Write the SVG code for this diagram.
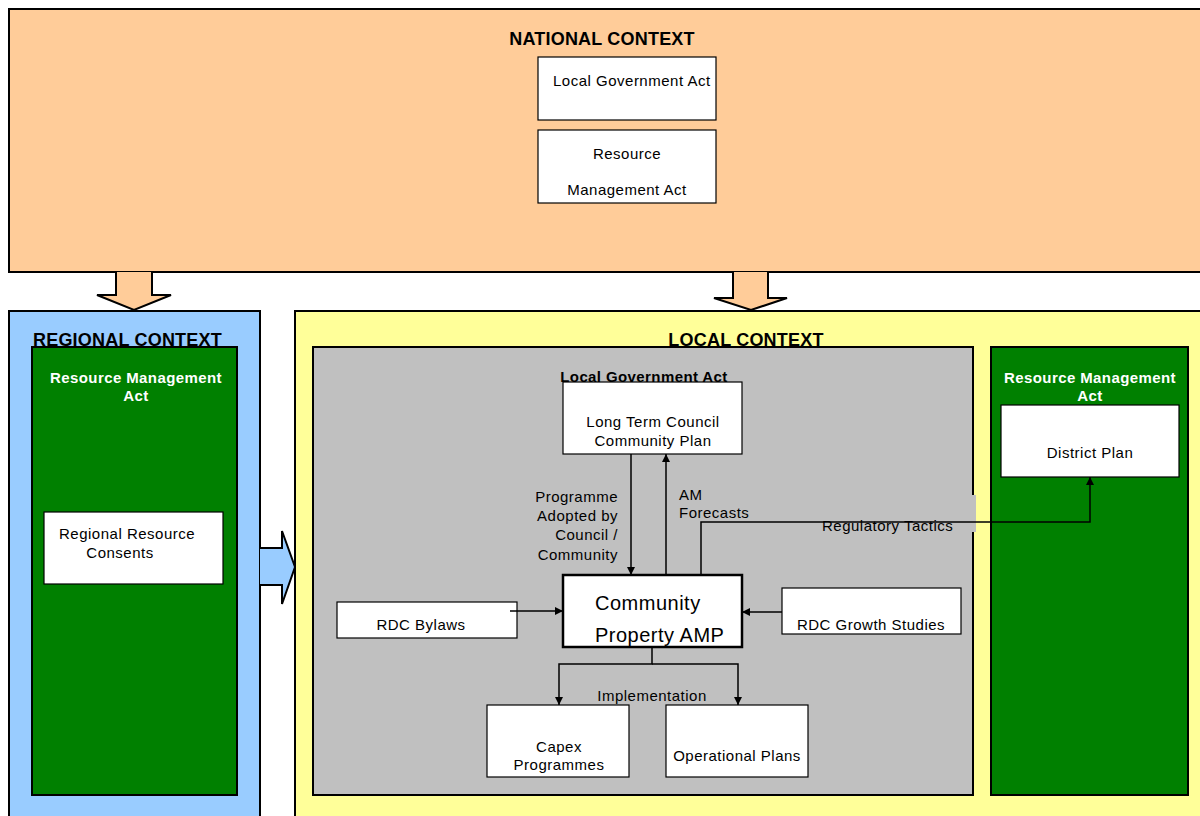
<svg xmlns="http://www.w3.org/2000/svg" width="1200" height="816" viewBox="0 0 1200 816">
<style>
text{font-family:"Liberation Sans",Arial,sans-serif;fill:#000}
.hdr{font-size:18px;font-weight:bold;letter-spacing:0.2px}
.wh{font-size:15px;font-weight:bold;fill:#fff;letter-spacing:0.4px}
.t{font-size:15px;letter-spacing:0.5px}
.box{fill:#fff;stroke:#000;stroke-width:1.2}
.cn{fill:none;stroke:#000;stroke-width:1.5}
</style>
<defs>
<marker id="ah" viewBox="0 0 10 10" refX="10" refY="5" markerWidth="8" markerHeight="8" markerUnits="userSpaceOnUse" orient="auto"><path d="M0,0 L10,5 L0,10 z" fill="#000"/></marker>
</defs>
<rect width="1200" height="816" fill="#fff"/>
<g id="national">
<rect x="9" y="9" width="1200" height="263" fill="#FFCC99" stroke="#000" stroke-width="2"/>
<text class="hdr" x="602" y="45" text-anchor="middle">NATIONAL CONTEXT</text>
</g>
<g id="nat-lga">
<rect class="box" x="538" y="57" width="178" height="63"/>
<text class="t" x="553" y="86">Local Government Act</text>
</g>
<g id="nat-rma">
<rect class="box" x="538" y="130" width="178" height="73"/>
<text class="t" x="627" y="159" text-anchor="middle">Resource</text>
<text class="t" x="627" y="195" text-anchor="middle">Management Act</text>
</g>
<g id="arrow-nat-regional">
<path d="M116,272 L116,295 L97,295 L134,310 L171,295 L152,295 L152,272" fill="#FFCC99" stroke="#000" stroke-width="2"/>
</g>
<g id="arrow-nat-local">
<path d="M733,272 L733,298 L714,298 L751,310 L787,298 L768,298 L768,272" fill="#FFCC99" stroke="#000" stroke-width="2"/>
</g>
<g id="regional">
<rect x="9" y="311" width="251" height="520" fill="#99CCFF" stroke="#000" stroke-width="2"/>
<rect x="32" y="347" width="205" height="448" fill="#008000" stroke="#000" stroke-width="2"/>
<text class="hdr" x="33" y="346">REGIONAL CONTEXT</text>
<text class="wh" x="136" y="383" text-anchor="middle">Resource Management</text>
<text class="wh" x="136" y="401" text-anchor="middle">Act</text>
</g>
<g id="regional-consents">
<rect class="box" x="44" y="512" width="179" height="72"/>
<text class="t" x="59" y="539">Regional Resource</text>
<text class="t" x="120" y="558" text-anchor="middle">Consents</text>
</g>
<g id="arrow-regional-local">
<path d="M260,548 L282,548 L282,531 L295,567 L282,604 L282,585 L260,585" fill="#99CCFF" stroke="#000" stroke-width="2"/>
</g>
<g id="local">
<rect x="295" y="311" width="920" height="520" fill="#FFFF99" stroke="#000" stroke-width="2"/>
<rect x="313" y="347" width="660" height="448" fill="#C0C0C0" stroke="#000" stroke-width="2"/>
<rect x="991" y="347" width="197" height="448" fill="#008000" stroke="#000" stroke-width="2"/>
<text class="hdr" x="746" y="346" text-anchor="middle">LOCAL CONTEXT</text>
<text x="644" y="382" text-anchor="middle" style="font-size:15px;font-weight:bold;letter-spacing:0.4px">Local Government Act</text>
<text class="wh" x="1090" y="383" text-anchor="middle">Resource Management</text>
<text class="wh" x="1090" y="401" text-anchor="middle">Act</text>
</g>
<g id="ltccp">
<rect class="box" x="563" y="382" width="179" height="72"/>
<text class="t" x="653" y="427" text-anchor="middle">Long Term Council</text>
<text class="t" x="653" y="446" text-anchor="middle">Community Plan</text>
</g>
<g id="district-plan">
<rect class="box" x="1001" y="405" width="178" height="72"/>
<text class="t" x="1090" y="458" text-anchor="middle">District Plan</text>
</g>
<g id="amp">
<rect x="563" y="575" width="179" height="72" fill="#fff" stroke="#000" stroke-width="2.5"/>
<text x="595" y="610" style="font-size:20px;letter-spacing:0.5px">Community</text>
<text x="595" y="642" style="font-size:20px;letter-spacing:0.5px">Property AMP</text>
</g>
<g id="bylaws">
<rect class="box" x="337" y="602" width="180" height="36"/>
<text class="t" x="421" y="630" text-anchor="middle">RDC Bylaws</text>
</g>
<g id="growth">
<rect class="box" x="782" y="588" width="179" height="46"/>
<text class="t" x="871" y="630" text-anchor="middle">RDC Growth Studies</text>
</g>
<g id="capex">
<rect class="box" x="487" y="705" width="142" height="72"/>
<text class="t" x="559" y="752" text-anchor="middle">Capex</text>
<text class="t" x="559" y="770" text-anchor="middle">Programmes</text>
</g>
<g id="operational">
<rect class="box" x="666" y="705" width="142" height="72"/>
<text class="t" x="737" y="761" text-anchor="middle">Operational Plans</text>
</g>
<g id="connectors">
<line class="cn" x1="631" y1="454" x2="631" y2="575" marker-end="url(#ah)"/>
<line class="cn" x1="666" y1="575" x2="666" y2="454" marker-end="url(#ah)"/>
<rect x="790" y="495" width="186" height="37" fill="#C0C0C0"/>
<path class="cn" d="M701,575 L701,522 L1090,522 L1090,477" marker-end="url(#ah)"/>
<line class="cn" x1="510" y1="611" x2="563" y2="611" marker-end="url(#ah)"/>
<line class="cn" x1="782" y1="612" x2="742" y2="612" marker-end="url(#ah)"/>
<path class="cn" d="M652,647 L652,664 L559,664 L559,705" marker-end="url(#ah)"/>
<path class="cn" d="M652,664 L738,664 L738,705" marker-end="url(#ah)"/>
<text class="t" x="618" y="502" text-anchor="end">Programme</text>
<text class="t" x="618" y="521" text-anchor="end">Adopted by</text>
<text class="t" x="618" y="540" text-anchor="end">Council /</text>
<text class="t" x="618" y="560" text-anchor="end">Community</text>
<text class="t" x="679" y="500">AM</text>
<text class="t" x="679" y="518">Forecasts</text>
<text class="t" x="822" y="531">Regulatory Tactics</text>
<text class="t" x="652" y="701" text-anchor="middle">Implementation</text>
</g>
</svg>
